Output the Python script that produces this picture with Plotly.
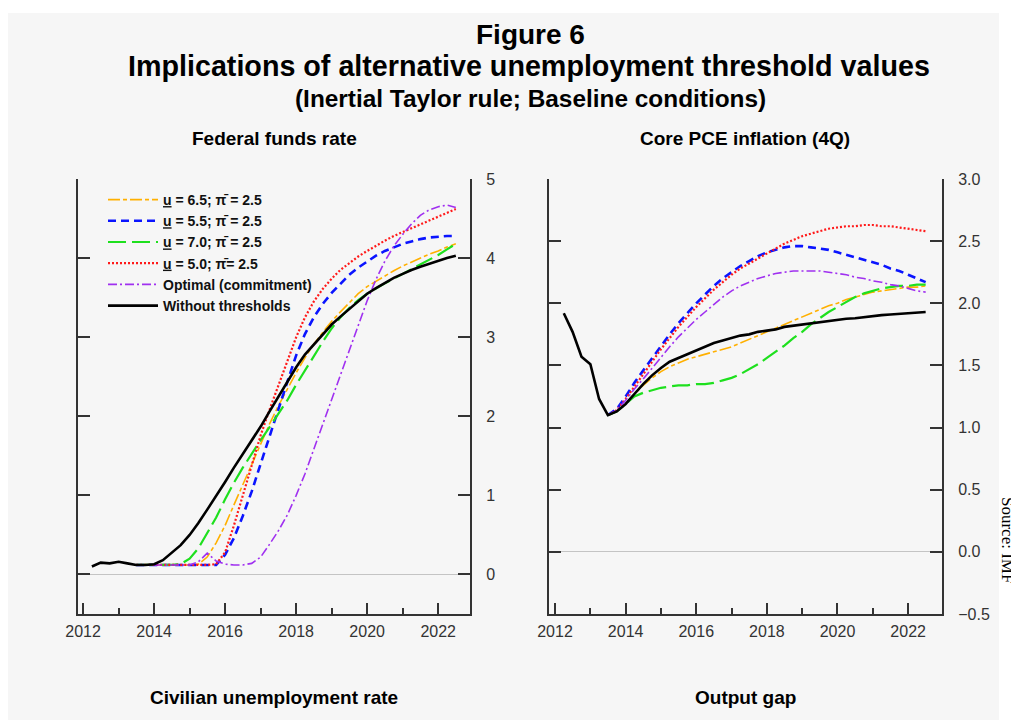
import pandas as pd
import plotly.graph_objects as go

# quarterly dates, history from 2012Q2, scenarios from 2013Q3
quarters = pd.date_range("2012-04-01", "2022-07-01", freq="QS")
proj_quarters = quarters[5:]

# ---- Federal funds rate (left panel) ----
ffr_base = [0.10, 0.15, 0.14, 0.16, 0.14, 0.12, 0.12, 0.13, 0.18, 0.27, 0.37, 0.50,
            0.65, 0.82, 0.99, 1.17, 1.35, 1.52, 1.70, 1.87, 2.06, 2.25, 2.43, 2.62,
            2.78, 2.91, 3.03, 3.16, 3.26, 3.36, 3.46, 3.55, 3.62, 3.69, 3.75, 3.80,
            3.85, 3.89, 3.93, 3.96, 4.00, 4.03]
ffr_u65 = [0.12, 0.12, 0.12, 0.12, 0.12, 0.12, 0.12, 0.13, 0.22, 0.40, 0.62, 0.88,
           1.14, 1.40, 1.66, 1.90, 2.13, 2.35, 2.55, 2.74, 2.91, 3.06, 3.20, 3.32,
           3.44, 3.55, 3.64, 3.71, 3.78, 3.84, 3.90, 3.95, 4.00, 4.05, 4.09, 4.14, 4.18]
ffr_u55 = [0.12, 0.12, 0.12, 0.12, 0.12, 0.12, 0.12, 0.12, 0.12, 0.12, 0.25, 0.46,
           0.74, 1.05, 1.40, 1.73, 2.07, 2.43, 2.77, 3.04, 3.25, 3.42, 3.56, 3.68,
           3.79, 3.88, 3.96, 4.03, 4.09, 4.14, 4.18, 4.21, 4.24, 4.26, 4.27, 4.28, 4.28]
ffr_u70 = [0.12, 0.12, 0.12, 0.12, 0.12, 0.13, 0.20, 0.33, 0.52, 0.72, 0.95, 1.16,
           1.35, 1.53, 1.70, 1.86, 2.03, 2.20, 2.40, 2.58, 2.76, 2.94, 3.11, 3.25,
           3.37, 3.47, 3.55, 3.62, 3.68, 3.74, 3.80, 3.86, 3.92, 3.98, 4.04, 4.11, 4.18]
ffr_u50 = [0.12, 0.12, 0.12, 0.12, 0.12, 0.12, 0.12, 0.12, 0.12, 0.13, 0.28, 0.62,
           1.00, 1.38, 1.76, 2.08, 2.39, 2.70, 3.00, 3.25, 3.45, 3.61, 3.74, 3.85,
           3.94, 4.02, 4.09, 4.16, 4.22, 4.28, 4.33, 4.38, 4.43, 4.48, 4.53, 4.58, 4.62]
ffr_opt = [0.12, 0.12, 0.12, 0.12, 0.12, 0.12, 0.12, 0.16, 0.27, 0.17, 0.13, 0.12,
           0.12, 0.14, 0.22, 0.38, 0.55, 0.75, 1.00, 1.27, 1.58, 1.90, 2.20, 2.51,
           2.83, 3.14, 3.46, 3.73, 3.96, 4.15, 4.30, 4.43, 4.54, 4.61, 4.65, 4.67, 4.64]

# ---- Core PCE inflation, 4Q (right panel) ----
pce_base = [1.92, 1.77, 1.57, 1.51, 1.23, 1.10, 1.13, 1.19, 1.27, 1.35, 1.42, 1.48,
            1.53, 1.56, 1.59, 1.62, 1.65, 1.68, 1.70, 1.72, 1.74, 1.75, 1.77, 1.78,
            1.79, 1.81, 1.82, 1.83, 1.84, 1.85, 1.86, 1.87, 1.875, 1.88, 1.89, 1.90,
            1.905, 1.91, 1.915, 1.92, 1.925, 1.93]
pce_u65 = [1.10, 1.13, 1.19, 1.27, 1.34, 1.40, 1.45, 1.49, 1.52, 1.55, 1.57, 1.59,
           1.61, 1.63, 1.65, 1.68, 1.71, 1.74, 1.77, 1.80, 1.83, 1.86, 1.89, 1.92,
           1.95, 1.98, 2.00, 2.03, 2.05, 2.07, 2.09, 2.10, 2.11, 2.12, 2.13, 2.13, 2.14]
pce_u55 = [1.10, 1.15, 1.25, 1.36, 1.46, 1.56, 1.66, 1.75, 1.84, 1.92, 2.00, 2.07,
           2.14, 2.20, 2.25, 2.30, 2.34, 2.38, 2.41, 2.43, 2.45, 2.46, 2.46, 2.45,
           2.44, 2.43, 2.41, 2.39, 2.37, 2.35, 2.33, 2.31, 2.28, 2.26, 2.23, 2.20, 2.17]
pce_u70 = [1.10, 1.13, 1.19, 1.25, 1.28, 1.30, 1.32, 1.33, 1.34, 1.34, 1.35, 1.35,
           1.36, 1.38, 1.40, 1.43, 1.47, 1.51, 1.56, 1.61, 1.66, 1.72, 1.77, 1.83,
           1.88, 1.93, 1.97, 2.01, 2.05, 2.08, 2.10, 2.12, 2.13, 2.14, 2.14, 2.15, 2.15]
pce_u50 = [1.10, 1.14, 1.23, 1.33, 1.43, 1.53, 1.63, 1.72, 1.81, 1.89, 1.97, 2.04,
           2.11, 2.17, 2.23, 2.28, 2.32, 2.36, 2.40, 2.44, 2.48, 2.51, 2.54, 2.56,
           2.58, 2.60, 2.61, 2.62, 2.62, 2.63, 2.63, 2.62, 2.62, 2.61, 2.60, 2.59, 2.58]
pce_opt = [1.10, 1.14, 1.22, 1.31, 1.39, 1.48, 1.57, 1.65, 1.73, 1.80, 1.87, 1.93,
           1.99, 2.05, 2.10, 2.14, 2.17, 2.20, 2.22, 2.24, 2.25, 2.26, 2.26, 2.26,
           2.26, 2.25, 2.24, 2.23, 2.21, 2.20, 2.18, 2.17, 2.15, 2.14, 2.12, 2.10, 2.09]

ffr_ticks = [0, 1, 2, 3, 4, 5]
pce_ticks = [-0.5, 0.0, 0.5, 1.0, 1.5, 2.0, 2.5, 3.0]

U = '<span style="text-decoration:underline">u</span>'
PI = "\u03c0\u0304"
scenarios = [
    # name, colour, dash, width, ffr, pce
    (f"<b>{U} = 6.5; {PI} = 2.5</b>", "#FFB000", "12px,3px,4px,3px", 1.6, ffr_u65, pce_u65),
    (f"<b>{U} = 5.5; {PI} = 2.5</b>", "#0A14FF", "8px,5px", 2.6, ffr_u55, pce_u55),
    (f"<b>{U} = 7.0; {PI} = 2.5</b>", "#1EE01E", "18px,6px", 2.2, ffr_u70, pce_u70),
    (f"<b>{U} = 5.0; {PI}= 2.5</b>", "#FF1A1A", "2px,2px", 2.2, ffr_u50, pce_u50),
    ("<b>Optimal (commitment)</b>", "#A030F0", "9px,3px,2px,3px", 1.6, ffr_opt, pce_opt),
]

SANS = "Liberation Sans, Arial, sans-serif"
INK = "#333333"
# the page body adds an 8px margin, so the figure is a little smaller than the window
OFF = 8
W, H = 1019 - OFF, 720 - OFF


def px(x):
    return (x - OFF) / W


def py(y):
    return 1 - (y - OFF) / H


fig = go.Figure()

for name, color, dash, width, ffr, pce in scenarios:
    fig.add_trace(go.Scatter(x=proj_quarters, y=ffr, mode="lines", name=name,
                             line=dict(color=color, dash=dash, width=width),
                             xaxis="x", yaxis="y"))
    fig.add_trace(go.Scatter(x=proj_quarters, y=pce, mode="lines", name=name, showlegend=False,
                             line=dict(color=color, dash=dash, width=width),
                             xaxis="x2", yaxis="y2"))

fig.add_trace(go.Scatter(x=quarters, y=ffr_base, mode="lines", name="<b>Without thresholds</b>",
                         line=dict(color="black", width=2.6), xaxis="x", yaxis="y"))
fig.add_trace(go.Scatter(x=quarters, y=pce_base, mode="lines", name="<b>Without thresholds</b>",
                         showlegend=False, line=dict(color="black", width=2.6),
                         xaxis="x2", yaxis="y2"))

tick_font = dict(family=SANS, size=16, color=INK)

xcommon = dict(type="date", showline=True, linecolor=INK, linewidth=2, mirror=False,
               ticks="inside", ticklen=11, tickwidth=2, tickcolor=INK,
               dtick="M24", tick0="2012-01-01", tickformat="%Y",
               showgrid=False, zeroline=False, tickfont=tick_font, ticklabelstandoff=2,
               minor=dict(ticks="inside", ticklen=6, tickwidth=1.5, tickcolor=INK,
                          dtick="M12", tick0="2013-01-01", showgrid=False))
ycommon = dict(side="right", showline=True, mirror="ticks", linecolor=INK, linewidth=2,
               ticks="inside", ticklen=12, tickwidth=2, tickcolor=INK,
               showgrid=False, zeroline=True, zerolinecolor="#c4c4c4", zerolinewidth=1,
               tickfont=tick_font, ticklabelstandoff=11)

ydom = [py(614), py(179)]
fig.update_layout(
    xaxis=dict(domain=[px(78), px(470)], anchor="y",
               range=["2011-11-10", "2022-11-24"], **xcommon),
    xaxis2=dict(domain=[px(549), px(942)], anchor="y2",
                range=["2011-10-31", "2022-12-17"], **xcommon),
    yaxis=dict(domain=ydom, anchor="x", range=[-0.5, 5], tickvals=ffr_ticks, **ycommon),
    yaxis2=dict(domain=ydom, anchor="x2", range=[-0.5, 3.0], tickvals=pce_ticks,
                tickformat=".1f", **ycommon),
)

annotations = [
    ("<b>Figure 6</b>", 530, 34, 28),
    ("<b>Implications of alternative unemployment threshold values</b>", 529, 66, 28.7),
    ("<b>(Inertial Taylor rule; Baseline conditions)</b>", 530, 98, 24.4),
    ("<b>Federal funds rate</b>", 274, 139, 19),
    ("<b>Core PCE inflation (4Q)</b>", 745, 139, 19),
    ("<b>Civilian unemployment rate</b>", 274, 697, 19),
    ("<b>Output gap</b>", 745, 697, 19),
]
for text, x, y, size in annotations:
    fig.add_annotation(text=text, x=px(x), y=py(y), xref="paper", yref="paper",
                       showarrow=False, xanchor="center", yanchor="middle",
                       font=dict(family=SANS, size=size, color="black"))

fig.add_annotation(text="Source: IMF", x=px(1008), y=py(540), xref="paper", yref="paper",
                   showarrow=False, textangle=90, xanchor="center", yanchor="middle",
                   font=dict(family="Liberation Serif, Times New Roman, serif", size=17,
                             color="black"))

# light grey backing panel
fig.add_shape(type="rect", xref="paper", yref="paper", x0=px(8), x1=px(999), y0=0, y1=py(13),
              fillcolor="#f6f6f6", line=dict(width=0), layer="below")

fig.update_layout(
    width=W, height=H,
    margin=dict(l=0, r=0, t=0, b=0, autoexpand=False),
    paper_bgcolor="white",
    plot_bgcolor="rgba(0,0,0,0)",
    font=dict(family=SANS, color="black"),
    showlegend=True,
    legend=dict(x=px(103), y=py(184), xanchor="left", yanchor="top",
                bgcolor="rgba(0,0,0,0)", font=dict(family=SANS, size=14, color="#111111"),
                itemwidth=50, tracegroupgap=0),
)

fig.write_html("out.html")
